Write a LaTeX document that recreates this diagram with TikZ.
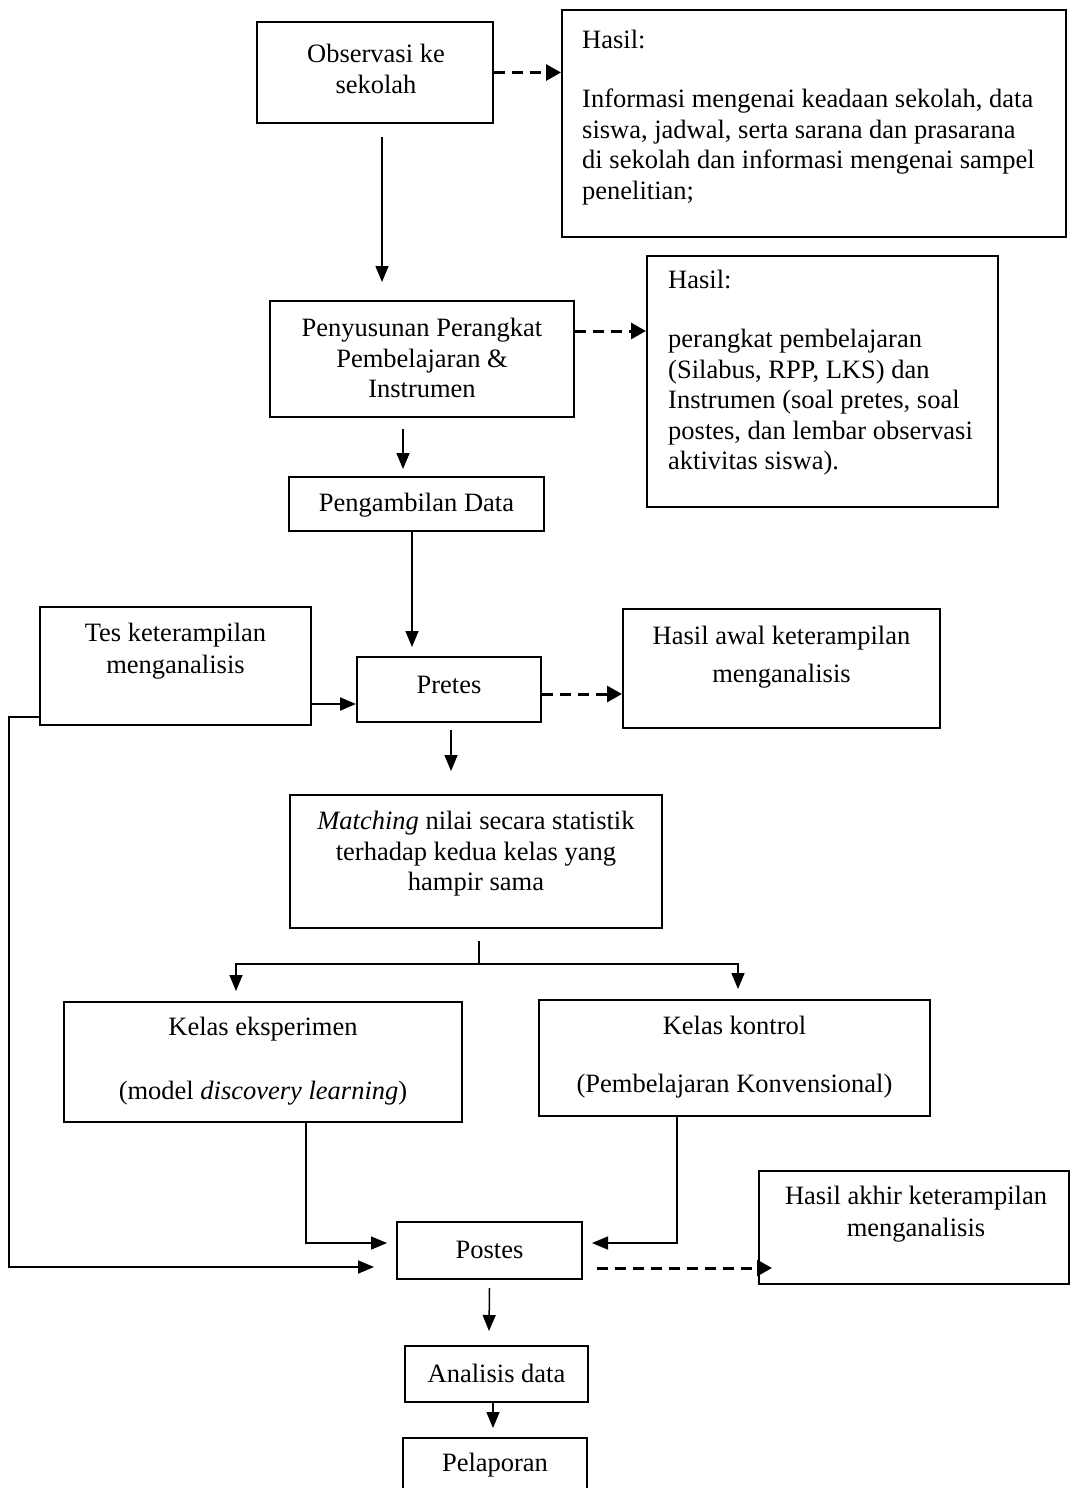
\documentclass[tikz,border=0pt]{standalone}
\usepackage{fontspec}
\setmainfont{Liberation Serif}
\usetikzlibrary{arrows.meta}
\begin{document}
\begin{tikzpicture}[x=1pt,y=-1pt,
  box/.style={draw=black,line width=2pt,rectangle,inner sep=0pt},
  txt/.style={inner sep=0pt,font=\fontsize{26.5}{30.5}\selectfont},
  arr/.style={line width=1.5pt,-{Triangle[length=16pt,width=13pt]}},
  darr/.style={line width=3pt,dash pattern=on 11pt off 7pt,-{Triangle[length=15pt,width=16pt]}},
  plain/.style={line width=1.5pt}]
\clip (0,0) rectangle (1070,1488);
% boxes
\node[box,minimum width=236pt,minimum height=101pt] (obs) at (375,72.5) {};
\node[box,minimum width=504pt,minimum height=227pt] (h1) at (814,123.5) {};
\node[box,minimum width=304pt,minimum height=116pt] (pen) at (422,359) {};
\node[box,minimum width=351pt,minimum height=251pt] (h2) at (822.5,381.5) {};
\node[box,minimum width=255pt,minimum height=54pt] (amb) at (416.5,504) {};
\node[box,minimum width=271pt,minimum height=118pt] (tes) at (175.5,666) {};
\node[box,minimum width=184pt,minimum height=65pt] (pre) at (449,689.5) {};
\node[box,minimum width=317pt,minimum height=119pt] (haw) at (781.5,668.5) {};
\node[box,minimum width=372pt,minimum height=133pt] (mat) at (476,861.5) {};
\node[box,minimum width=398pt,minimum height=120pt] (eks) at (263,1062) {};
\node[box,minimum width=391pt,minimum height=116pt] (kon) at (734.5,1058) {};
\node[box,minimum width=185pt,minimum height=57pt] (pos) at (489.5,1250.5) {};
\node[box,minimum width=310pt,minimum height=113pt] (hak) at (914,1227.5) {};
\node[box,minimum width=183pt,minimum height=56pt] (ana) at (496.5,1374) {};
\node[box,minimum width=184pt,minimum height=62pt] (pel) at (495,1469) {};
% texts
\node[txt,align=center] (tobs) at (376,69) {Observasi ke\\sekolah};
\node[txt,align=left,anchor=west] (th1) at (582,117.5) {Hasil:\\[28.5pt]Informasi mengenai keadaan sekolah, data\\siswa, jadwal, serta sarana dan prasarana\\di sekolah dan informasi mengenai sampel\\penelitian;};
\node[txt,align=center] (tpen) at (422,358) {Penyusunan Perangkat\\Pembelajaran \&\\Instrumen};
\node[txt,align=left,anchor=west] (th2) at (668,373) {Hasil:\\[28.5pt]perangkat pembelajaran\\(Silabus, RPP, LKS) dan\\Instrumen (soal pretes, soal\\postes, dan lembar observasi\\aktivitas siswa).};
\node[txt] (tamb) at (416.5,505) {Pengambilan Data};
\node[txt,align=center] (ttes) at (175.5,651) {Tes keterampilan\\[1.5pt]menganalisis};
\node[txt] (tpre) at (449,685) {Pretes};
\node[txt,align=center] (thaw) at (781.5,657) {Hasil awal keterampilan\\[7.5pt]menganalisis};
\node[txt,align=center] (tmat) at (476,854) {\textit{Matching} nilai secara statistik\\terhadap kedua kelas yang\\hampir sama};
\node[txt,align=center] (teks) at (263,1061) {Kelas eksperimen\\[33.5pt](model \textit{discovery learning})};
\node[txt,align=center] (tkon) at (734.5,1057) {Kelas kontrol\\[27.5pt](Pembelajaran Konvensional)};
\node[txt] (tpos) at (489.5,1250) {Postes};
\node[txt,align=center] (thak) at (916,1214) {Hasil akhir keterampilan\\[1.5pt]menganalisis};
\node[txt] (tana) at (496.5,1373) {Analisis data};
\node[txt] (tpel) at (495,1465) {Pelaporan};
% connectors
\draw[arr] ([xshift=7pt,yshift=-13pt]obs.south) -- ([xshift=-40pt,yshift=18pt]pen.north);
\draw[darr] (obs.east) -- (obs.east -| h1.west);
\draw[darr] ([yshift=28pt]pen.east) -- ([yshift=28pt]pen.east -| h2.west);
\draw[arr] ([xshift=-19pt,yshift=-11pt]pen.south) -- ([xshift=-13.5pt,yshift=7pt]amb.north);
\draw[arr] ([xshift=-4.5pt]amb.south) -- ([xshift=-37pt,yshift=9pt]pre.north);
\draw[arr,line width=2.2pt] ([yshift=-38pt]tes.east) -- ([yshift=-38pt]tes.east -| pre.west);
\draw[darr] ([yshift=-4.5pt]pre.east) -- ([yshift=-4.5pt]pre.east -| haw.west);
\draw[arr] ([xshift=2pt,yshift=-7pt]pre.south) -- ([xshift=-25pt,yshift=23pt]mat.north);
\coordinate (split) at (479,964);
\draw[plain] ([xshift=3pt,yshift=-12pt]mat.south) -- (split);
\draw[arr] (split) -| ([xshift=-27pt,yshift=10pt]eks.north);
\draw[arr] (split) -| ([xshift=3.5pt,yshift=10pt]kon.north);
\draw[arr] ([xshift=43pt]eks.south) |- ([xshift=-9pt,yshift=7.5pt]pos.west);
\draw[arr] ([xshift=-57.5pt]kon.south) |- ([xshift=9pt,yshift=7.5pt]pos.east);
\draw[arr,line width=1.8pt] ([yshift=-51pt]tes.west) -- ++(-30,0) |- ([xshift=-22pt,yshift=-16.5pt]pos.west);
\draw[darr] ([xshift=14pt,yshift=-17.5pt]pos.east) -- ([xshift=14pt,yshift=-17.5pt]pos.east -| hak.west);
\draw[arr] ([yshift=-8pt]pos.south) -- ([xshift=-7.5pt,yshift=14pt]ana.north);
\draw[arr] ([xshift=-3.5pt]ana.south) -- ([xshift=-2pt,yshift=9pt]pel.north);
\end{tikzpicture}
\end{document}
